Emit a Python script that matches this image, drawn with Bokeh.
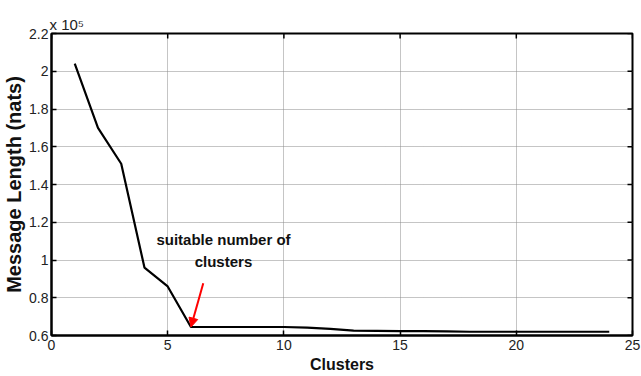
import math
from bokeh.plotting import figure
from bokeh.models import (ColumnDataSource, Label, Arrow, NormalHead,
                          FixedTicker, Range1d)
from bokeh.embed import file_html
from bokeh.resources import INLINE

# ---- data (message length in units of 1e5 nats) ----
clusters = [1, 2, 3, 4, 5, 6, 7, 8, 9, 10, 11, 12, 13, 14, 15, 16, 17, 18, 19, 20, 21, 22, 23, 24]
message_length_1e5 = [2.04, 1.70, 1.51, 0.96, 0.86, 0.645, 0.645, 0.645, 0.645, 0.645,
                      0.642, 0.635, 0.626, 0.625, 0.623, 0.623, 0.622, 0.620, 0.620,
                      0.620, 0.620, 0.620, 0.620, 0.620]
x_ticks = [0, 5, 10, 15, 20, 25]
y_ticks = [0.6, 0.8, 1.0, 1.2, 1.4, 1.6, 1.8, 2.0, 2.2]
y_tick_labels = {0.6: "0.6", 0.8: "0.8", 1.0: "1", 1.2: "1.2", 1.4: "1.4",
                 1.6: "1.6", 1.8: "1.8", 2.0: "2", 2.2: "2.2"}
exponent_text = "x 10\u2075"
annotation_text = "suitable number of\nclusters"
annotation_xy = (7.4, 1.05)
arrow_start = (6.53, 0.877)
arrow_end = (6.0, 0.645)

X_MIN, X_MAX = 0, 25
Y_MIN, Y_MAX = 0.6, 2.2
FONT = "Liberation Sans"

p = figure(width=641, height=376, output_backend="svg", toolbar_location=None,
           x_range=Range1d(X_MIN, X_MAX), y_range=Range1d(Y_MIN, Y_MAX),
           min_border_left=49, min_border_right=9, min_border_top=33, min_border_bottom=41)
p.background_fill_color = "white"
p.border_fill_color = "white"
p.outline_line_color = "black"
p.outline_line_width = 2

for g in (p.xgrid[0], p.ygrid[0]):
    g.grid_line_color = "#8a8a8a"
    g.grid_line_dash = "1 1"
    g.grid_line_width = 1
p.xgrid[0].ticker = FixedTicker(ticks=x_ticks)
p.ygrid[0].ticker = FixedTicker(ticks=y_ticks)

src = ColumnDataSource(dict(x=clusters, y=message_length_1e5))
p.line("x", "y", source=src, line_color="black", line_width=2.2)

# inward ticks on the top and right edges of the box (half of each dash is clipped)
p.scatter(x=x_ticks, y=[Y_MAX] * len(x_ticks), marker="dash", angle=math.pi / 2,
          size=10, line_color="black", line_width=1.5)
p.scatter(x=[X_MAX] * len(y_ticks), y=y_ticks, marker="dash",
          size=10, line_color="black", line_width=1.5)

for ax in (p.xaxis[0], p.yaxis[0]):
    ax.axis_line_color = "black"
    ax.axis_line_width = 2
    ax.major_tick_in = 5
    ax.major_tick_out = 0
    ax.minor_tick_line_color = None
    ax.major_label_text_font = FONT
    ax.major_label_text_font_size = "14px"
    ax.major_label_text_color = "#222222"
    ax.axis_label_text_font = FONT
    ax.axis_label_text_font_style = "bold"
    ax.axis_label_text_color = "#111111"
    ax.major_tick_line_color = "black"
    ax.major_tick_line_width = 1.5

p.xaxis[0].ticker = FixedTicker(ticks=x_ticks)
p.yaxis[0].ticker = FixedTicker(ticks=y_ticks)
p.yaxis[0].major_label_overrides = y_tick_labels
p.xaxis[0].axis_label = "Clusters"
p.yaxis[0].axis_label = "Message Length (nats)"
p.xaxis[0].axis_label_text_font_size = "16px"
p.yaxis[0].axis_label_text_font_size = "20px"
p.xaxis[0].major_label_standoff = 4
p.yaxis[0].major_label_standoff = 3
p.xaxis[0].axis_label_standoff = 3
p.yaxis[0].axis_label_standoff = 1

# exponent label as title
p.title.text = exponent_text
p.title.align = "left"
p.title.text_font = FONT
p.title.text_font_style = "normal"
p.title.text_font_size = "15px"
p.title.text_color = "#222222"
p.title.offset = -2
p.title.standoff = 1

# annotation
p.add_layout(Label(x=annotation_xy[0], y=annotation_xy[1], text=annotation_text,
                   text_font=FONT, text_font_style="bold", text_font_size="15px",
                   text_align="center", text_baseline="middle", text_color="#111111",
                   text_line_height=1.3))
p.add_layout(Arrow(x_start=arrow_start[0], y_start=arrow_start[1],
                   x_end=arrow_end[0], y_end=arrow_end[1],
                   line_color="red", line_width=2,
                   end=NormalHead(size=9, fill_color="red", line_color="red")))

open("out.html", "w").write(file_html(p, INLINE))
